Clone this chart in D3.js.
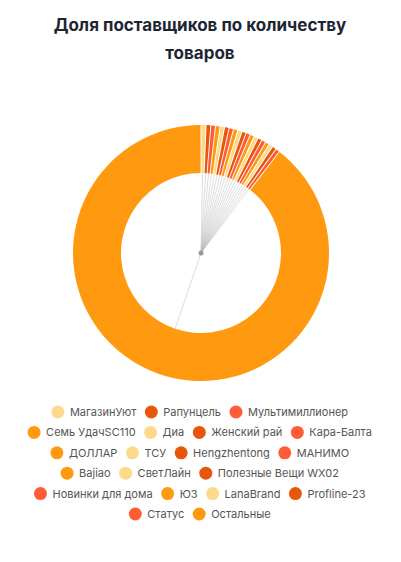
<!DOCTYPE html><html><head><meta charset="utf-8"><script src="https://cdn.jsdelivr.net/npm/d3@7"></script>
<style>body{margin:0;background:#fff;font-family:Inter,"Noto Sans",sans-serif}</style></head><body><svg id="c" width="401" height="562"></svg>
<script>
const categories=["МагазинУют","Рапунцель","Мультимиллионер","Семь УдачSC110","Диа","Женский рай","Кара-Балта","ДОЛЛАР","ТСУ","Hengzhentong","МАНИМО","Bajiao","СветЛайн","Полезные Вещи WX02","Новинки для дома","ЮЗ","LanaBrand","Profline-23","Статус","Остальные"];
const values=[0.55,0.5,0.5,0.5,0.48,0.48,0.47,0.47,0.46,0.46,0.45,0.45,0.45,0.44,0.44,0.44,0.43,0.43,0.43,91.2];
const palette=["#FDD98C","#E8560B","#FF5C35","#FF9A10"];
const svg=d3.select("#c");
svg.append("text").attr("x",200).attr("y",31).attr("text-anchor","middle").attr("font-size",17).attr("font-weight",700).attr("fill","#1e2533").text("Доля поставщиков по количеству");
svg.append("text").attr("x",200).attr("y",59).attr("text-anchor","middle").attr("font-size",17).attr("font-weight",700).attr("fill","#1e2533").text("товаров");
const cx=201,cy=253,R=128,r=80;
const data=categories.map((c,i)=>({c,v:values[i],col:palette[i%4]}));
const pie=d3.pie().sort(null).value(d=>d.v).padAngle(0.006);
const arcs=pie(data);
const g=svg.append("g").attr("transform",`translate(${cx},${cy})`);
g.selectAll("path").data(arcs).join("path").attr("d",d3.arc().innerRadius(r).outerRadius(R)).attr("fill",d=>d.data.col);
arcs.forEach(a=>{const m=(a.startAngle+a.endAngle)/2;
 g.append("line").attr("x1",0).attr("y1",0).attr("x2",Math.sin(m)*r).attr("y2",-Math.cos(m)*r).attr("stroke","#bbb").attr("stroke-opacity",0.5).attr("stroke-width",1);});
g.append("circle").attr("r",2.5).attr("fill","#999");
const rows=[[0,1,2],[3,4,5,6],[7,8,9,10],[11,12,13],[14,15,16,17],[18,19]];
const lg=svg.append("g").attr("font-size",11).attr("fill","#555");
rows.forEach((row,ri)=>{const y=412+ri*20.4;
 const tmp=row.map(i=>{const t=lg.append("text").text(categories[i]).attr("y",y+4);return {i,t,w:t.node().getComputedTextLength()};});
 const total=d3.sum(tmp,d=>d.w+18)+ (tmp.length-1)*9;let x=200-total/2;
 tmp.forEach(d=>{lg.append("circle").attr("cx",x+6).attr("cy",y).attr("r",6.5).attr("fill",data[d.i].col);d.t.attr("x",x+18);x+=d.w+18+9;});
});
</script></body></html>
